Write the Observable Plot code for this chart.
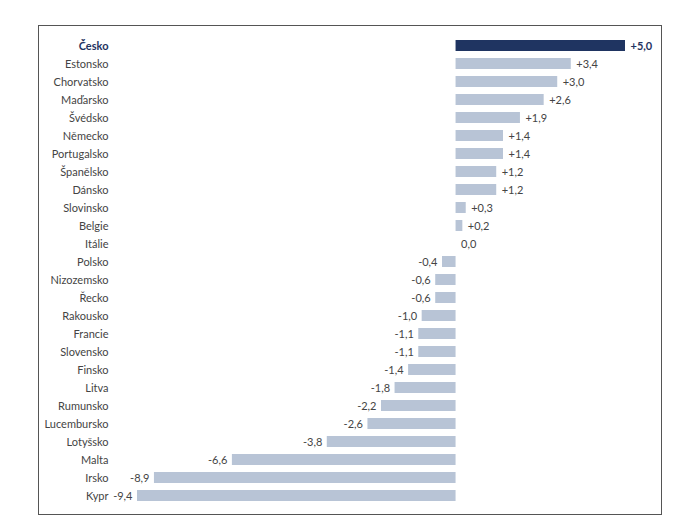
<!DOCTYPE html>
<html>
<head>
<meta charset="utf-8">
<script src="https://cdn.jsdelivr.net/npm/d3@7"></script>
<script src="https://cdn.jsdelivr.net/npm/@observablehq/plot@0.6"></script>
<style>
  html, body { margin: 0; padding: 0; background: #fff; }
  #wrap { position: relative; width: 700px; height: 520px; }
  #frame { position: absolute; left: 38px; top: 25px; width: 622px; height: 488px; border: 1px solid #555; pointer-events: none; }
  svg { display: block; }
</style>
</head>
<body>
<div id="wrap"><div id="frame"></div></div>
<script>
const countries = ["Česko","Estonsko","Chorvatsko","Maďarsko","Švédsko","Německo","Portugalsko","Španělsko","Dánsko","Slovinsko","Belgie","Itálie","Polsko","Nizozemsko","Řecko","Rakousko","Francie","Slovensko","Finsko","Litva","Rumunsko","Lucembursko","Lotyšsko","Malta","Irsko","Kypr"];
const values = [5.0,3.4,3.0,2.6,1.9,1.4,1.4,1.2,1.2,0.3,0.2,0.0,-0.4,-0.6,-0.6,-1.0,-1.1,-1.1,-1.4,-1.8,-2.2,-2.6,-3.8,-6.6,-8.9,-9.4];
const highlight = "Česko";

const data = countries.map((c, i) => ({country: c, value: values[i], hi: c === highlight}));
const fmt = v => (v > 0 ? "+" : v < 0 ? "-" : "") + Math.abs(v).toFixed(1).replace(".", ",");
const xMin = d3.min(values);
const navy = "#1f3461", light = "#b8c4d6", textCol = "#444";
const hiData = data.filter(d => d.hi), restData = data.filter(d => !d.hi);

const chart = Plot.plot({
  width: 700,
  height: 520,
  marginLeft: 137,
  marginRight: 75,
  marginTop: 29.5,
  marginBottom: 9,
  style: {fontFamily: "Lato, 'Open Sans', sans-serif", fontSize: "11px", background: "transparent"},
  x: {domain: [xMin, d3.max(values)], axis: null},
  y: {domain: countries, axis: null, padding: 0.4},
  marks: [
    Plot.barX(data, {y: "country", x1: 0, x2: "value", fill: d => d.hi ? navy : light}),
    // category labels
    Plot.text(restData, {y: "country", x: () => xMin, dx: -29, textAnchor: "end", text: "country", fill: textCol}),
    Plot.text(hiData, {y: "country", x: () => xMin, dx: -29, textAnchor: "end", text: "country", fill: navy, fontWeight: "bold"}),
    // value labels
    Plot.text(restData.filter(d => d.value >= 0), {y: "country", x: "value", dx: 5, textAnchor: "start", text: d => fmt(d.value), fill: textCol}),
    Plot.text(hiData, {y: "country", x: "value", dx: 5, textAnchor: "start", text: d => fmt(d.value), fill: navy, fontWeight: "bold"}),
    Plot.text(restData.filter(d => d.value < 0), {y: "country", x: "value", dx: -5, textAnchor: "end", text: d => fmt(d.value), fill: textCol})
  ]
});
document.getElementById("wrap").prepend(chart);
</script>
</body>
</html>
